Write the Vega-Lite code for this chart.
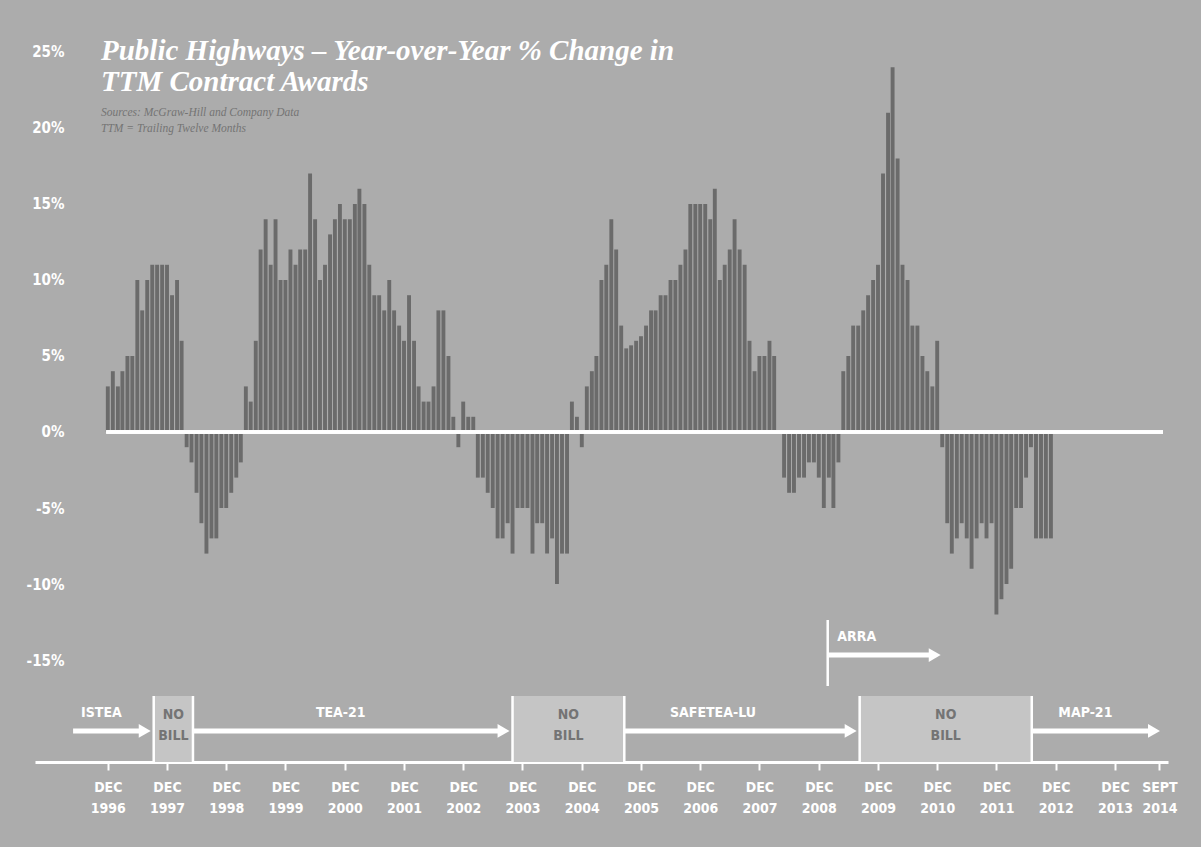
{
  "$schema": "https://vega.github.io/schema/vega-lite/v6.json",
  "width": 1133,
  "height": 762,
  "autosize": {"type": "none"},
  "padding": {"left": 35, "top": 0, "right": 33, "bottom": 85},
  "background": "#acacac",
  "config": {"view": {"stroke": null}},
  "title": {
    "text": ["Public Highways – Year-over-Year % Change in", "TTM Contract Awards"],
    "subtitle": ["Sources: McGraw-Hill and Company Data", "TTM = Trailing Twelve Months"],
    "anchor": "start",
    "frame": "group",
    "orient": "top",
    "offset": -134,
    "dx": 66,
    "font": "Liberation Serif",
    "fontSize": 29,
    "fontStyle": "italic",
    "fontWeight": "bold",
    "color": "#ffffff",
    "lineHeight": 31,
    "subtitleFont": "Liberation Serif",
    "subtitleFontSize": 11.5,
    "subtitleFontStyle": "italic",
    "subtitleFontWeight": "normal",
    "subtitleColor": "#747474",
    "subtitleLineHeight": 16,
    "subtitlePadding": 10
  },
  "resolve": {"scale": {"y": "independent"}, "axis": {"y": "independent"}},
  "layer": [
    {
      "data": {"values": [
        {"m":"1996-12-01","v":3},{"m":"1997-01-01","v":4},{"m":"1997-02-01","v":3},{"m":"1997-03-01","v":4},{"m":"1997-04-01","v":5},{"m":"1997-05-01","v":5},{"m":"1997-06-01","v":10},{"m":"1997-07-01","v":8},{"m":"1997-08-01","v":10},{"m":"1997-09-01","v":11},{"m":"1997-10-01","v":11},{"m":"1997-11-01","v":11},{"m":"1997-12-01","v":11},
        {"m":"1998-01-01","v":9},{"m":"1998-02-01","v":10},{"m":"1998-03-01","v":6},{"m":"1998-04-01","v":-1},{"m":"1998-05-01","v":-2},{"m":"1998-06-01","v":-4},{"m":"1998-07-01","v":-6},{"m":"1998-08-01","v":-8},{"m":"1998-09-01","v":-7},{"m":"1998-10-01","v":-7},{"m":"1998-11-01","v":-5},{"m":"1998-12-01","v":-5},
        {"m":"1999-01-01","v":-4},{"m":"1999-02-01","v":-3},{"m":"1999-03-01","v":-2},{"m":"1999-04-01","v":3},{"m":"1999-05-01","v":2},{"m":"1999-06-01","v":6},{"m":"1999-07-01","v":12},{"m":"1999-08-01","v":14},{"m":"1999-09-01","v":11},{"m":"1999-10-01","v":14},{"m":"1999-11-01","v":10},{"m":"1999-12-01","v":10},
        {"m":"2000-01-01","v":12},{"m":"2000-02-01","v":11},{"m":"2000-03-01","v":12},{"m":"2000-04-01","v":12},{"m":"2000-05-01","v":17},{"m":"2000-06-01","v":14},{"m":"2000-07-01","v":10},{"m":"2000-08-01","v":11},{"m":"2000-09-01","v":13},{"m":"2000-10-01","v":14},{"m":"2000-11-01","v":15},{"m":"2000-12-01","v":14},
        {"m":"2001-01-01","v":14},{"m":"2001-02-01","v":15},{"m":"2001-03-01","v":16},{"m":"2001-04-01","v":15},{"m":"2001-05-01","v":11},{"m":"2001-06-01","v":9},{"m":"2001-07-01","v":9},{"m":"2001-08-01","v":8},{"m":"2001-09-01","v":10},{"m":"2001-10-01","v":8},{"m":"2001-11-01","v":7},{"m":"2001-12-01","v":6},
        {"m":"2002-01-01","v":9},{"m":"2002-02-01","v":6},{"m":"2002-03-01","v":3},{"m":"2002-04-01","v":2},{"m":"2002-05-01","v":2},{"m":"2002-06-01","v":3},{"m":"2002-07-01","v":8},{"m":"2002-08-01","v":8},{"m":"2002-09-01","v":5},{"m":"2002-10-01","v":1},{"m":"2002-11-01","v":-1},{"m":"2002-12-01","v":2},
        {"m":"2003-01-01","v":1},{"m":"2003-02-01","v":1},{"m":"2003-03-01","v":-3},{"m":"2003-04-01","v":-3},{"m":"2003-05-01","v":-4},{"m":"2003-06-01","v":-5},{"m":"2003-07-01","v":-7},{"m":"2003-08-01","v":-7},{"m":"2003-09-01","v":-6},{"m":"2003-10-01","v":-8},{"m":"2003-11-01","v":-5},{"m":"2003-12-01","v":-5},
        {"m":"2004-01-01","v":-5},{"m":"2004-02-01","v":-8},{"m":"2004-03-01","v":-6},{"m":"2004-04-01","v":-6},{"m":"2004-05-01","v":-8},{"m":"2004-06-01","v":-7},{"m":"2004-07-01","v":-10},{"m":"2004-08-01","v":-8},{"m":"2004-09-01","v":-8},{"m":"2004-10-01","v":2},{"m":"2004-11-01","v":1},{"m":"2004-12-01","v":-1},
        {"m":"2005-01-01","v":3},{"m":"2005-02-01","v":4},{"m":"2005-03-01","v":5},{"m":"2005-04-01","v":10},{"m":"2005-05-01","v":11},{"m":"2005-06-01","v":14},{"m":"2005-07-01","v":12},{"m":"2005-08-01","v":7},{"m":"2005-09-01","v":5.5},{"m":"2005-10-01","v":5.7},{"m":"2005-11-01","v":6},{"m":"2005-12-01","v":6.3},
        {"m":"2006-01-01","v":7},{"m":"2006-02-01","v":8},{"m":"2006-03-01","v":8},{"m":"2006-04-01","v":9},{"m":"2006-05-01","v":9},{"m":"2006-06-01","v":10},{"m":"2006-07-01","v":10},{"m":"2006-08-01","v":11},{"m":"2006-09-01","v":12},{"m":"2006-10-01","v":15},{"m":"2006-11-01","v":15},{"m":"2006-12-01","v":15},
        {"m":"2007-01-01","v":15},{"m":"2007-02-01","v":14},{"m":"2007-03-01","v":16},{"m":"2007-04-01","v":10},{"m":"2007-05-01","v":11},{"m":"2007-06-01","v":12},{"m":"2007-07-01","v":14},{"m":"2007-08-01","v":12},{"m":"2007-09-01","v":11},{"m":"2007-10-01","v":6},{"m":"2007-11-01","v":4},{"m":"2007-12-01","v":5},
        {"m":"2008-01-01","v":5},{"m":"2008-02-01","v":6},{"m":"2008-03-01","v":5},{"m":"2008-04-01","v":0},{"m":"2008-05-01","v":-3},{"m":"2008-06-01","v":-4},{"m":"2008-07-01","v":-4},{"m":"2008-08-01","v":-3},{"m":"2008-09-01","v":-3},{"m":"2008-10-01","v":-2},{"m":"2008-11-01","v":-2},{"m":"2008-12-01","v":-3},
        {"m":"2009-01-01","v":-5},{"m":"2009-02-01","v":-3},{"m":"2009-03-01","v":-5},{"m":"2009-04-01","v":-2},{"m":"2009-05-01","v":4},{"m":"2009-06-01","v":5},{"m":"2009-07-01","v":7},{"m":"2009-08-01","v":7},{"m":"2009-09-01","v":8},{"m":"2009-10-01","v":9},{"m":"2009-11-01","v":10},{"m":"2009-12-01","v":11},
        {"m":"2010-01-01","v":17},{"m":"2010-02-01","v":21},{"m":"2010-03-01","v":24},{"m":"2010-04-01","v":18},{"m":"2010-05-01","v":11},{"m":"2010-06-01","v":10},{"m":"2010-07-01","v":7},{"m":"2010-08-01","v":7},{"m":"2010-09-01","v":5},{"m":"2010-10-01","v":4},{"m":"2010-11-01","v":3},{"m":"2010-12-01","v":6},
        {"m":"2011-01-01","v":-1},{"m":"2011-02-01","v":-6},{"m":"2011-03-01","v":-8},{"m":"2011-04-01","v":-7},{"m":"2011-05-01","v":-6},{"m":"2011-06-01","v":-7},{"m":"2011-07-01","v":-9},{"m":"2011-08-01","v":-7},{"m":"2011-09-01","v":-6},{"m":"2011-10-01","v":-7},{"m":"2011-11-01","v":-6},{"m":"2011-12-01","v":-12},
        {"m":"2012-01-01","v":-11},{"m":"2012-02-01","v":-10},{"m":"2012-03-01","v":-9},{"m":"2012-04-01","v":-5},{"m":"2012-05-01","v":-5},{"m":"2012-06-01","v":-3},{"m":"2012-07-01","v":-1},{"m":"2012-08-01","v":-7},{"m":"2012-09-01","v":-7},{"m":"2012-10-01","v":-7},{"m":"2012-11-01","v":-7}
      ]},
      "layer": [
        {
          "mark": {"type": "bar", "width": 3.9, "color": "#6b6b6b"},
          "encoding": {
            "x": {
              "field": "m", "type": "temporal",
              "scale": {"type": "utc", "domain": [{"year": 1995, "month": 10, "date": 10, "utc": true}, {"year": 2014, "month": 9, "date": 23, "utc": true}]},
              "axis": {
                "title": null,
                "values": [
                  {"year": 1996, "month": 12, "date": 1, "utc": true}, {"year": 1997, "month": 12, "date": 1, "utc": true}, {"year": 1998, "month": 12, "date": 1, "utc": true}, {"year": 1999, "month": 12, "date": 1, "utc": true}, {"year": 2000, "month": 12, "date": 1, "utc": true}, {"year": 2001, "month": 12, "date": 1, "utc": true}, {"year": 2002, "month": 12, "date": 1, "utc": true}, {"year": 2003, "month": 12, "date": 1, "utc": true}, {"year": 2004, "month": 12, "date": 1, "utc": true}, {"year": 2005, "month": 12, "date": 1, "utc": true}, {"year": 2006, "month": 12, "date": 1, "utc": true}, {"year": 2007, "month": 12, "date": 1, "utc": true}, {"year": 2008, "month": 12, "date": 1, "utc": true}, {"year": 2009, "month": 12, "date": 1, "utc": true}, {"year": 2010, "month": 12, "date": 1, "utc": true}, {"year": 2011, "month": 12, "date": 1, "utc": true}, {"year": 2012, "month": 12, "date": 1, "utc": true}, {"year": 2013, "month": 12, "date": 1, "utc": true}, {"year": 2014, "month": 9, "date": 1, "utc": true}
                ],
                "labelExpr": "utcmonth(datum.value) == 8 ? ['SEPT', utcFormat(datum.value, '%Y')] : ['DEC', utcFormat(datum.value, '%Y')]",
                "grid": false,
                "domainColor": "#ffffff",
                "domainWidth": 3,
                "tickColor": "#ffffff",
                "tickWidth": 2,
                "tickSize": 8,
                "labelColor": "#ffffff",
                "labelFont": "Liberation Sans Narrow, DejaVu Sans Condensed, Roboto, sans-serif",
                "labelFontWeight": "bold",
                "labelFontSize": 14,
                "labelLineHeight": 21,
                "labelPadding": 10,
                "labelBaseline": "top",
                "labelFlush": false,
                "labelOverlap": false
              }
            },
            "y": {
              "field": "v", "type": "quantitative",
              "scale": {"domain": [-21.71, 28.42], "nice": false, "zero": false},
              "axis": {
                "title": null,
                "values": [-15, -10, -5, 0, 5, 10, 15, 20, 25],
                "labelExpr": "datum.value + '%'",
                "domain": false,
                "ticks": false,
                "grid": false,
                "offset": -29,
                "labelPadding": 0,
                "labelAlign": "right",
                "labelColor": "#ffffff",
                "labelFont": "Liberation Sans Narrow, DejaVu Sans Condensed, Roboto, sans-serif",
                "labelFontWeight": "bold",
                "labelFontSize": 15
              }
            }
          }
        },
        {
          "mark": {"type": "rule", "color": "#ffffff", "strokeWidth": 2.5},
          "encoding": {
            "x": {"datum": {"year": 1996, "month": 11, "date": 24, "utc": true}, "type": "temporal", "title": null, "scale": {"type": "utc", "domain": [{"year": 1995, "month": 10, "date": 10, "utc": true}, {"year": 2014, "month": 9, "date": 23, "utc": true}]}},
            "x2": {"datum": {"year": 2014, "month": 9, "date": 23, "utc": true}},
            "y": {"datum": 0, "type": "quantitative"}
          }
        }
      ]
    },
    {
      "data": {
        "values": [
          {"id": 1, "name": "ISTEA", "kind": "law", "lane": "MAIN", "start": "1996-05-01", "end": "1997-09-10"},
          {"id": 2, "name": "NO BILL", "kind": "gap", "lane": "MAIN", "start": "1997-09-10", "end": "1998-05-10"},
          {"id": 3, "name": "TEA-21", "kind": "law", "lane": "MAIN", "start": "1998-05-10", "end": "2003-10-01"},
          {"id": 4, "name": "NO BILL", "kind": "gap", "lane": "MAIN", "start": "2003-10-01", "end": "2005-08-20"},
          {"id": 5, "name": "SAFETEA-LU", "kind": "law", "lane": "MAIN", "start": "2005-08-20", "end": "2009-08-10"},
          {"id": 6, "name": "NO BILL", "kind": "gap", "lane": "MAIN", "start": "2009-08-10", "end": "2012-07-06"},
          {"id": 7, "name": "MAP-21", "kind": "law", "lane": "MAIN", "start": "2012-07-06", "end": "2014-09-23"},
          {"id": 8, "name": "ARRA", "kind": "law", "lane": "ARRA", "start": "2009-01-25", "end": "2011-01-10"}
        ],
        "format": {"parse": {"start": "date", "end": "date"}}
      },
      "layer": [
        {
          "transform": [{"filter": "datum.kind == 'gap'"}],
          "mark": {"type": "rect", "color": "#c5c5c5"},
          "encoding": {
            "x": {"field": "start", "type": "temporal", "title": null, "scale": {"type": "utc", "domain": [{"year": 1995, "month": 10, "date": 10, "utc": true}, {"year": 2014, "month": 9, "date": 23, "utc": true}]}},
            "x2": {"field": "end"},
            "y": {"field": "lane", "type": "nominal", "axis": null, "scale": {"type": "band", "domain": ["ARRA", "MAIN"], "range": [620, 762], "paddingInner": 0.13, "paddingOuter": 0}}
          }
        },
        {
          "transform": [{"filter": "datum.name != 'ISTEA'"}],
          "mark": {"type": "rect", "fill": null, "stroke": "#ffffff", "strokeWidth": 2.5},
          "encoding": {
            "x": {"field": "start", "type": "temporal", "title": null, "scale": {"type": "utc", "domain": [{"year": 1995, "month": 10, "date": 10, "utc": true}, {"year": 2014, "month": 9, "date": 23, "utc": true}]}},
            "x2": {"field": "start"},
            "y": {"field": "lane", "type": "nominal", "axis": null}
          }
        },
        {
          "transform": [{"filter": "datum.kind == 'law'"}],
          "mark": {"type": "rule", "color": "#ffffff", "strokeWidth": 5, "x2Offset": -10, "yOffset": 2},
          "encoding": {
            "x": {"field": "start", "type": "temporal", "title": null, "scale": {"type": "utc", "domain": [{"year": 1995, "month": 10, "date": 10, "utc": true}, {"year": 2014, "month": 9, "date": 23, "utc": true}]}},
            "x2": {"field": "end"},
            "y": {"field": "lane", "type": "nominal", "axis": null}
          }
        },
        {
          "transform": [{"filter": "datum.kind == 'law'"}],
          "mark": {"type": "point", "shape": "triangle-right", "filled": true, "color": "#ffffff", "opacity": 1, "size": 190, "xOffset": -9, "yOffset": 2},
          "encoding": {
            "x": {"field": "end", "type": "temporal", "title": null, "scale": {"type": "utc", "domain": [{"year": 1995, "month": 10, "date": 10, "utc": true}, {"year": 2014, "month": 9, "date": 23, "utc": true}]}},
            "y": {"field": "lane", "type": "nominal", "axis": null}
          }
        },
        {
          "transform": [{"filter": "datum.kind == 'law' && datum.name != 'SAFETEA-LU' && datum.name != 'ARRA'"}, {"fold": ["start", "end"], "as": ["edge", "date"]}],
          "mark": {"type": "text", "color": "#ffffff", "font": "Liberation Sans Narrow, DejaVu Sans Condensed, Roboto, sans-serif", "fontWeight": "bold", "fontSize": 14, "dy": -16, "dx": -12},
          "encoding": {
            "x": {"field": "date", "aggregate": "mean", "type": "temporal", "title": null, "scale": {"type": "utc", "domain": [{"year": 1995, "month": 10, "date": 10, "utc": true}, {"year": 2014, "month": 9, "date": 23, "utc": true}]}},
            "y": {"field": "lane", "type": "nominal", "axis": null},
            "text": {"field": "name"},
            "detail": {"field": "id"}
          }
        },
        {
          "transform": [{"filter": "datum.name == 'SAFETEA-LU' || datum.name == 'ARRA'"}, {"fold": ["start", "end"], "as": ["edge", "date"]}],
          "mark": {"type": "text", "color": "#ffffff", "font": "Liberation Sans Narrow, DejaVu Sans Condensed, Roboto, sans-serif", "fontWeight": "bold", "fontSize": 14, "dy": -16, "dx": -29},
          "encoding": {
            "x": {"field": "date", "aggregate": "mean", "type": "temporal", "title": null, "scale": {"type": "utc", "domain": [{"year": 1995, "month": 10, "date": 10, "utc": true}, {"year": 2014, "month": 9, "date": 23, "utc": true}]}},
            "y": {"field": "lane", "type": "nominal", "axis": null},
            "text": {"field": "name"},
            "detail": {"field": "id"}
          }
        },
        {
          "transform": [{"filter": "datum.kind == 'gap'"}, {"fold": ["start", "end"], "as": ["edge", "date"]}],
          "mark": {"type": "text", "color": "#747474", "font": "Liberation Sans Narrow, DejaVu Sans Condensed, Roboto, sans-serif", "fontWeight": "bold", "fontSize": 14, "lineBreak": " ", "lineHeight": 21, "baseline": "middle", "dy": -14},
          "encoding": {
            "x": {"field": "date", "aggregate": "mean", "type": "temporal", "title": null, "scale": {"type": "utc", "domain": [{"year": 1995, "month": 10, "date": 10, "utc": true}, {"year": 2014, "month": 9, "date": 23, "utc": true}]}},
            "y": {"field": "lane", "type": "nominal", "axis": null},
            "text": {"field": "name"},
            "detail": {"field": "id"}
          }
        }
      ]
    }
  ]
}
